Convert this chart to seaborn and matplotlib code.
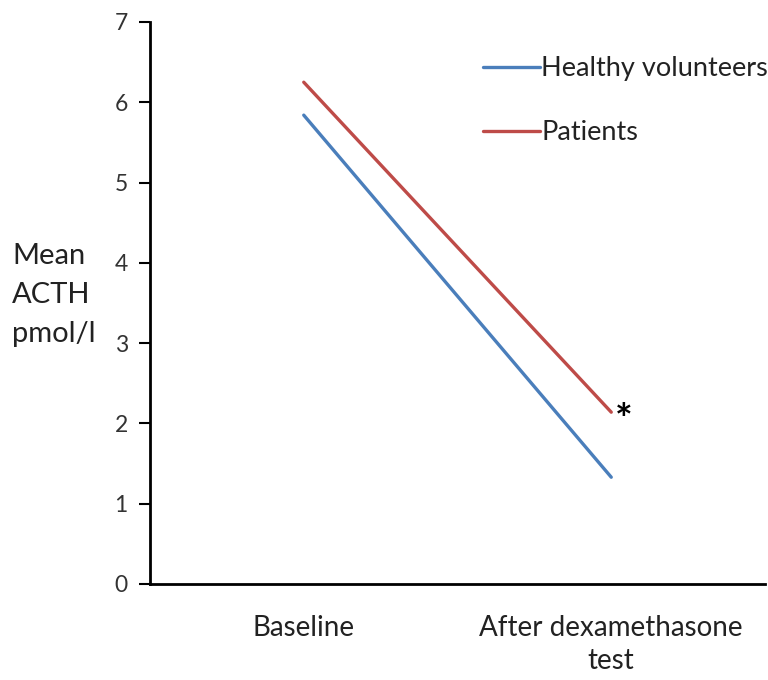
import matplotlib
matplotlib.use("Agg")
import matplotlib.pyplot as plt
import seaborn as sns
import pandas as pd

categories = ["Baseline", "After dexamethasone\ntest"]
healthy = [5.84, 1.33]
patients = [6.25, 2.14]
groups = ["Healthy volunteers", "Patients"]
colors = ["#4A7EBB", "#BE4B48"]

df = pd.DataFrame({
    "time": categories * 2,
    "acth": healthy + patients,
    "group": [groups[0]] * 2 + [groups[1]] * 2,
})

sns.set_style("ticks")
plt.rcParams["font.family"] = ["Lato", "DejaVu Sans"]

fig = plt.figure(figsize=(7.68, 6.8), dpi=100)
ax = fig.add_axes([150/768, 1-584/680, (765-150)/768, (584-22)/680])

sns.lineplot(data=df, x="time", y="acth", hue="group", palette=colors,
             linewidth=2.4, sort=False, ax=ax)

ax.set_xlim(-0.5, 1.5)
ax.set_ylim(0, 7)
ax.set_yticks(range(0, 8))
ax.set_xlabel("")
ax.set_ylabel("")
for s in ["top", "right"]:
    ax.spines[s].set_visible(False)
for s in ["left", "bottom"]:
    ax.spines[s].set_linewidth(2)
    ax.spines[s].set_color("black")
ax.tick_params(axis="y", left=True, length=8, width=1.5, direction="out", labelsize=16.5,
               colors="black", labelcolor="#333333", pad=8)
ax.tick_params(axis="x", bottom=False, length=0, labelsize=20, labelcolor="#222222", pad=22)
for lbl in ax.get_xticklabels():
    lbl.set_multialignment("center")
    lbl.set_linespacing(1.35)

fig.text(12/768, 1-295/680, "Mean\nACTH\npmol/l", ha="left", va="center",
         fontsize=21, color="#222222", linespacing=1.6)

ax.text(1.012, patients[1] - 0.12, "*", fontsize=30, color="black",
        ha="left", va="center", fontweight="bold")

leg = ax.legend(loc="upper left", bbox_to_anchor=(483/768, 1-56/680),
                bbox_transform=fig.transFigure, frameon=False, fontsize=19.5,
                handlelength=2.1, handletextpad=0.05, labelspacing=1.45,
                borderpad=0, borderaxespad=0)
for t in leg.get_texts():
    t.set_color("#222222")

fig.savefig("out.png", dpi=100)
